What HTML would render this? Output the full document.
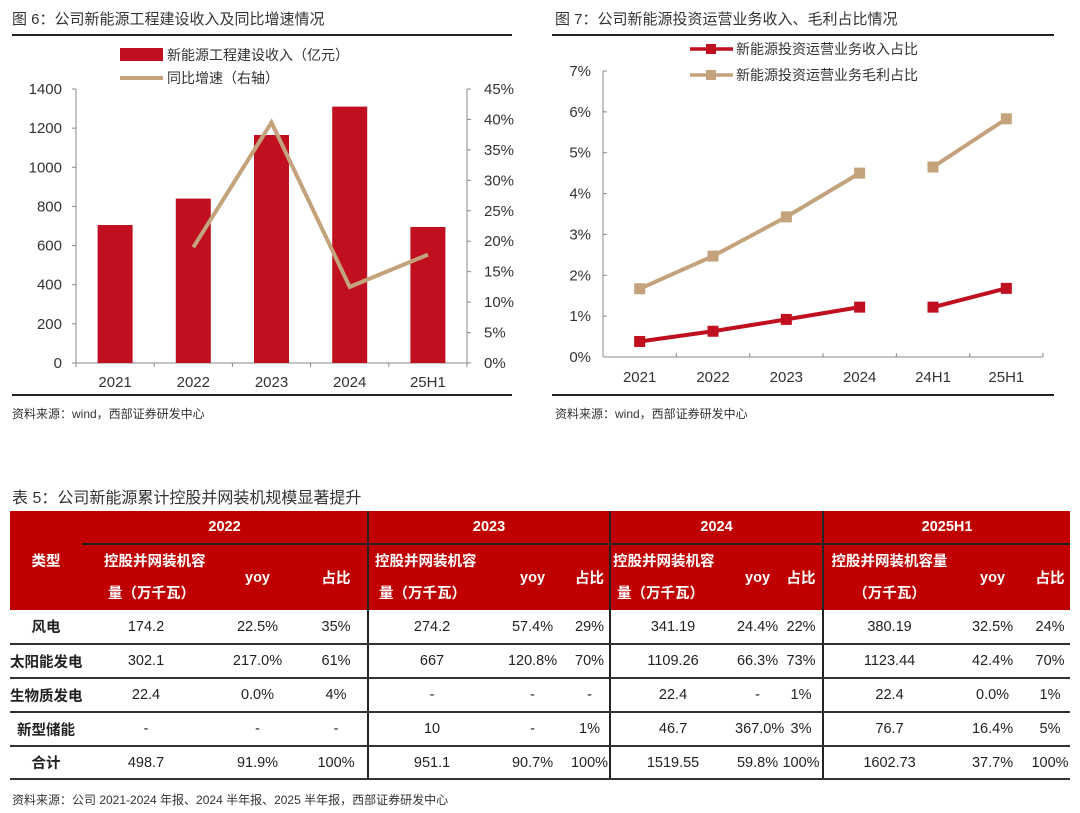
<!DOCTYPE html>
<html><head><meta charset="utf-8">
<style>
body{margin:0;width:1080px;height:813px;background:#fff;font-family:"Liberation Sans","Noto Sans CJK SC",sans-serif;overflow:hidden;position:relative}
.t{position:absolute;font-size:15px;color:#333;white-space:nowrap}
.src{position:absolute;font-size:12px;color:#333;white-space:nowrap}
.hr{position:absolute;height:2px;background:#222}
table{position:absolute;left:10px;top:511px;width:1060px;border-collapse:collapse;font-size:14.5px;color:#222;table-layout:fixed}
td{text-align:center;padding:0;border-bottom:2px solid #333;white-space:nowrap;overflow:visible}
thead td{background:#c00000;color:#fff;font-weight:bold;border-bottom:none}
.vb{border-right:2px solid #222}
.cap{text-align:left;line-height:32px}
</style></head><body>
<div class="t" style="left:12px;top:8px">图 6：公司新能源工程建设收入及同比增速情况</div>
<div class="hr" style="left:12px;top:34px;width:500px"></div>
<div class="hr" style="left:12px;top:394px;width:500px"></div>
<div class="src" style="left:12px;top:405px">资料来源：wind，西部证券研发中心</div>
<div class="t" style="left:555px;top:8px">图 7：公司新能源投资运营业务收入、毛利占比情况</div>
<div class="hr" style="left:552px;top:34px;width:502px"></div>
<div class="hr" style="left:552px;top:394px;width:502px"></div>
<div class="src" style="left:555px;top:405px">资料来源：wind，西部证券研发中心</div>

<svg id="svg" width="1080" height="400" style="position:absolute;left:0;top:0" font-family="Liberation Sans, Noto Sans CJK SC, sans-serif"></svg>

<div class="t" style="left:12px;top:484px;font-size:16px">表 5：公司新能源累计控股并网装机规模显著提升</div>
<div class="hr" style="left:10px;top:511px;width:1060px"></div>
<table>
<colgroup><col style="width:72px"><col style="width:128px"><col style="width:95px"><col style="width:63px"><col style="width:127px"><col style="width:75px"><col style="width:40px"><col style="width:125px"><col style="width:45px"><col style="width:43px"><col style="width:132px"><col style="width:75px"><col style="width:40px"></colgroup>
<thead>
<tr style="height:33px"><td rowspan="2">类型</td><td colspan="3" class="vb" style="border-bottom:2px solid #222">2022</td><td colspan="3" class="vb" style="border-bottom:2px solid #222">2023</td><td colspan="3" class="vb" style="border-bottom:2px solid #222">2024</td><td colspan="3" style="border-bottom:2px solid #222">2025H1</td></tr>
<tr style="height:66px"><td class="cap" style="padding-left:22px">控股并网装机容<br>&nbsp;量（万千瓦）</td><td>yoy</td><td class="vb">占比</td><td class="cap" style="padding-left:6px">控股并网装机容<br>&nbsp;量（万千瓦）</td><td>yoy</td><td class="vb">占比</td><td class="cap" style="padding-left:2px">控股并网装机容<br>&nbsp;量（万千瓦）</td><td>yoy</td><td class="vb">占比</td><td style="line-height:32px">控股并网装机容量<br>（万千瓦）</td><td>yoy</td><td>占比</td></tr>
</thead>
<tbody>
<tr style="height:34px"><td><b>风电</b></td><td>174.2</td><td>22.5%</td><td class="vb">35%</td><td>274.2</td><td>57.4%</td><td class="vb">29%</td><td>341.19</td><td>24.4%</td><td class="vb">22%</td><td>380.19</td><td>32.5%</td><td>24%</td></tr>
<tr style="height:34px"><td><b>太阳能发电</b></td><td>302.1</td><td>217.0%</td><td class="vb">61%</td><td>667</td><td>120.8%</td><td class="vb">70%</td><td>1109.26</td><td>66.3%</td><td class="vb">73%</td><td>1123.44</td><td>42.4%</td><td>70%</td></tr>
<tr style="height:34px"><td><b>生物质发电</b></td><td>22.4</td><td>0.0%</td><td class="vb">4%</td><td>-</td><td>-</td><td class="vb">-</td><td>22.4</td><td>-</td><td class="vb">1%</td><td>22.4</td><td>0.0%</td><td>1%</td></tr>
<tr style="height:34px"><td><b>新型储能</b></td><td>-</td><td>-</td><td class="vb">-</td><td>10</td><td>-</td><td class="vb">1%</td><td>46.7</td><td>367.0%</td><td class="vb">3%</td><td>76.7</td><td>16.4%</td><td>5%</td></tr>
<tr style="height:33px"><td><b>合计</b></td><td>498.7</td><td>91.9%</td><td class="vb">100%</td><td>951.1</td><td>90.7%</td><td class="vb">100%</td><td>1519.55</td><td>59.8%</td><td class="vb">100%</td><td>1602.73</td><td>37.7%</td><td>100%</td></tr>
</tbody></table>
<div class="src" style="left:12px;top:791px">资料来源：公司 2021-2024 年报、2024 半年报、2025 半年报，西部证券研发中心</div>

<script>
const cats6=["2021","2022","2023","2024","25H1"];
const revenue6=[705,840,1165,1310,695];
const growth6=[null,19.0,39.5,12.5,17.8];
const leftTicks6=[0,200,400,600,800,1000,1200,1400];
const rightTicks6=[0,5,10,15,20,25,30,35,40,45];
const cats7=["2021","2022","2023","2024","24H1","25H1"];
const revShare7=[0.38,0.63,0.92,1.22,1.22,1.68];
const gpShare7=[1.67,2.47,3.43,4.50,4.65,5.83];
const ticks7=[0,1,2,3,4,5,6,7];
const segBreak7=[4];

const S=document.getElementById('svg');const NS='http://www.w3.org/2000/svg';
function mk(t,a,txt){const e=document.createElementNS(NS,t);for(const k in a)e.setAttribute(k,a[k]);if(txt!=null)e.textContent=txt;S.appendChild(e);return e;}

// Chart 6
const L=76,R=467,B=363,T=89;
const x6=i=>L+(R-L)/cats6.length*(i+0.5);
const yL=v=>B-(v/1400)*(B-T);
const yR=v=>B-(v/45)*(B-T);
let e=mk('line',{x1:L,y1:T,x2:L,y2:B,stroke:'#888'});

e=mk('line',{x1:R,y1:T,x2:R,y2:B,stroke:'#888'});

e=mk('line',{x1:L,y1:B,x2:R,y2:B,stroke:'#888'});

leftTicks6.forEach(v=>{mk('line',{x1:L-4,y1:yL(v),x2:L,y2:yL(v),stroke:'#888'});
 e=mk('text',{x:L-14,y:yL(v)+5,'text-anchor':'end','font-size':15,fill:'#333'},v);
 });
rightTicks6.forEach(v=>{mk('line',{x1:R,y1:yR(v),x2:R+4,y2:yR(v),stroke:'#888'});
 e=mk('text',{x:R+17,y:yR(v)+5,'font-size':15,fill:'#333'},v+'%');
 });
for(let i=0;i<=cats6.length;i++)mk('line',{x1:L+(R-L)/cats6.length*i,y1:B,x2:L+(R-L)/cats6.length*i,y2:B+4,stroke:'#888'});
cats6.forEach((c,i)=>{
 e=mk('rect',{x:x6(i)-17.5,y:yL(revenue6[i]),width:35,height:B-yL(revenue6[i]),fill:'#c00f1e'});
 
 e=mk('text',{x:x6(i),y:B+24,'text-anchor':'middle','font-size':15,fill:'#333'},c);
 });
let pts=[];growth6.forEach((v,i)=>{if(v!=null)pts.push(x6(i)+','+yR(v));});
e=mk('polyline',{points:pts.join(' '),fill:'none',stroke:'#c4a27c','stroke-width':4});

e=mk('rect',{x:120,y:48,width:43,height:13,fill:'#c00f1e'});

e=mk('text',{x:167,y:60,'font-size':14,fill:'#333'},'新能源工程建设收入（亿元）');

mk('line',{x1:120,y1:78,x2:163,y2:78,stroke:'#c4a27c','stroke-width':4});
e=mk('text',{x:167,y:83,'font-size':14,fill:'#333'},'同比增速（右轴）');


// Chart 7
const L7=603,R7=1043,B7=357,T7=71;
const x7=i=>L7+(R7-L7)/cats7.length*(i+0.5);
const y7=v=>B7-(v/7)*(B7-T7);
e=mk('line',{x1:L7,y1:T7,x2:L7,y2:B7,stroke:'#888'});

e=mk('line',{x1:L7,y1:B7,x2:R7,y2:B7,stroke:'#888'});

ticks7.forEach(v=>{mk('line',{x1:L7,y1:y7(v),x2:L7+4,y2:y7(v),stroke:'#888'});
 e=mk('text',{x:L7-12,y:y7(v)+5,'text-anchor':'end','font-size':15,fill:'#333'},v+'%');
 });
for(let i=1;i<=cats7.length;i++)mk('line',{x1:L7+(R7-L7)/cats7.length*i,y1:B7,x2:L7+(R7-L7)/cats7.length*i,y2:B7-4,stroke:'#888'});
cats7.forEach((c,i)=>{e=mk('text',{x:x7(i),y:B7+25,'text-anchor':'middle','font-size':15,fill:'#333'},c);
 });
function series(vals,color,name){
 let segs=[[]];vals.forEach((v,i)=>{if(segBreak7.includes(i))segs.push([]);segs[segs.length-1].push(x7(i)+','+y7(v));});
 segs.forEach(s=>{const p=mk('polyline',{points:s.join(' '),fill:'none',stroke:color,'stroke-width':4});
  });
 vals.forEach((v,i)=>{const r=mk('rect',{x:x7(i)-5.5,y:y7(v)-5.5,width:11,height:11,fill:color});
  });
}
series(gpShare7,'#c4a27c','gross-profit-share');
series(revShare7,'#c00f1e','revenue-share');
mk('line',{x1:690,y1:49,x2:733,y2:49,stroke:'#c00f1e','stroke-width':3.5});
mk('rect',{x:706,y:44,width:10,height:10,fill:'#c00f1e'});
e=mk('text',{x:736,y:54,'font-size':14,fill:'#333'},'新能源投资运营业务收入占比');

mk('line',{x1:690,y1:75,x2:733,y2:75,stroke:'#c4a27c','stroke-width':3.5});
mk('rect',{x:706,y:70,width:10,height:10,fill:'#c4a27c'});
e=mk('text',{x:736,y:80,'font-size':14,fill:'#333'},'新能源投资运营业务毛利占比');

</script>
</body></html>
